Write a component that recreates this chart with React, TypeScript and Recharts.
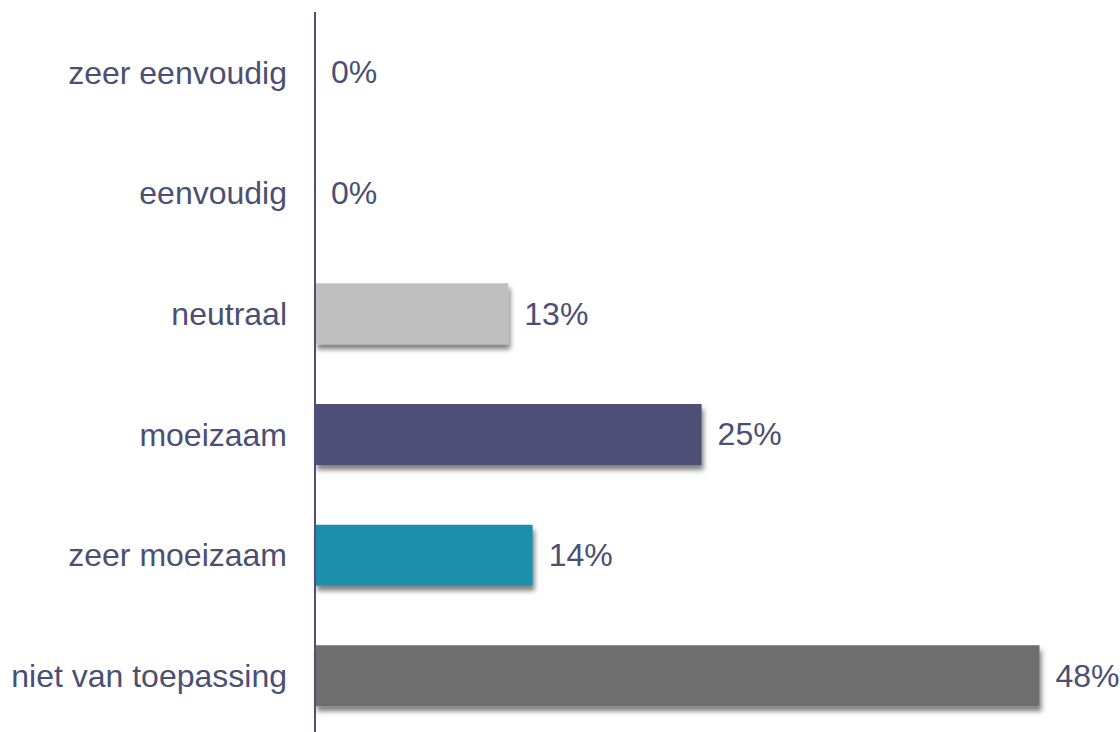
import { ComposedChart, Bar, Line, XAxis, YAxis, Cell, LabelList } from 'recharts';

const categories = [
  'zeer eenvoudig',
  'eenvoudig',
  'neutraal',
  'moeizaam',
  'zeer moeizaam',
  'niet van toepassing',
];
const shares = [0, 0, 12.7, 25.4, 14.3, 47.6];
const barColors = ['#bfbfbf', '#bfbfbf', '#bfbfbf', '#4e5077', '#1f8fad', '#6e6e6e'];

const data = categories.map((name, i) => ({ name, value: shares[i] }));

const textColor = '#4b4f74';
const font = '"Liberation Sans", Arial, sans-serif';

// value text next to the end of each bar (also for the 0% rows)
const ValueLabel = (props: any) => {
  const { x, y, value } = props;
  return (
    <text
      x={Number(x) + 16}
      y={Number(y)}
      dominantBaseline="central"
      fill={textColor}
      fontSize={32}
      fontFamily={font}
    >
      {`${Math.round(Number(value))}%`}
    </text>
  );
};

export default function App() {
  return (
    <div
      style={{
        position: 'absolute',
        left: 0,
        top: 0,
        width: 1120,
        height: 732,
        overflow: 'hidden',
        background: '#fff',
      }}
    >
      <ComposedChart
        width={1120}
        height={736}
        data={data}
        layout="vertical"
        margin={{ top: 12, right: 44, left: 0, bottom: 0 }}
        barSize={61}
      >
        <defs>
          <filter id="barShadow" x="-10%" y="-20%" width="130%" height="160%">
            <feDropShadow dx="2" dy="5" stdDeviation="2.5" floodColor="#000" floodOpacity="0.5" />
          </filter>
        </defs>
        <XAxis type="number" domain={[0, 50]} hide />
        <YAxis
          type="category"
          dataKey="name"
          width={315}
          tickLine={false}
          tickSize={0}
          tickMargin={28}
          axisLine={{ stroke: '#4e5077', strokeWidth: 2 }}
          tick={{ fill: textColor, fontSize: 32, fontFamily: font }}
        />
        <Bar dataKey="value" isAnimationActive={false}>
          {data.map((d, i) => (
            <Cell key={d.name} fill={barColors[i]} filter="url(#barShadow)" />
          ))}
        </Bar>
        <Line
          dataKey="value"
          stroke="none"
          dot={false}
          activeDot={false}
          isAnimationActive={false}
        >
          <LabelList dataKey="value" content={ValueLabel} />
        </Line>
      </ComposedChart>
    </div>
  );
}
